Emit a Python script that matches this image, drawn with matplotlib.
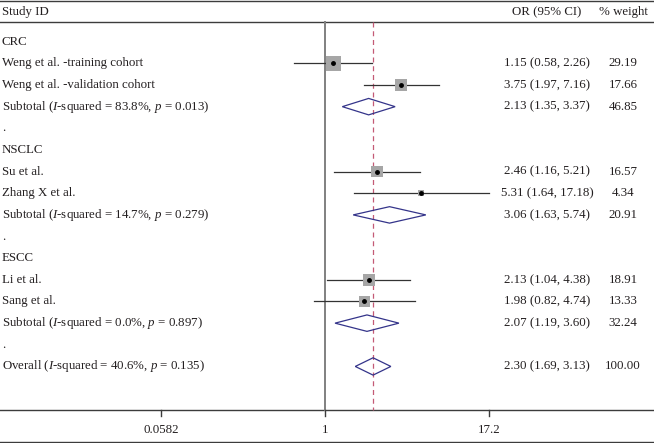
import numpy as np
import matplotlib
matplotlib.use("Agg")
from matplotlib import pyplot as plt
from matplotlib.patches import Polygon, Rectangle
import matplotlib.transforms as mtransforms

plt.rcParams['font.family'] = ['Liberation Serif', 'DejaVu Serif']
plt.rcParams['mathtext.fontset'] = 'custom'
plt.rcParams['mathtext.rm'] = 'Liberation Serif'
plt.rcParams['mathtext.it'] = 'Liberation Serif:italic'

# study level data
groups = ["CRC", "NSCLC", "ESCC"]
studies = [["Weng et al. -training cohort", "Weng et al. -validation cohort"],
           ["Su et al.", "Zhang X et al."],
           ["Li et al.", "Sang et al."]]
or_vals = [[1.15, 3.75], [2.46, 5.31], [2.13, 1.98]]
ci_lo = [[0.58, 1.97], [1.16, 1.64], [1.04, 0.82]]
ci_hi = [[2.26, 7.16], [5.21, 17.18], [4.38, 4.74]]
weights = [[29.19, 17.66], [16.57, 4.34], [18.91, 13.33]]

# subtotals
sub_or = [2.13, 3.06, 2.07]
sub_lo = [1.35, 1.63, 1.19]
sub_hi = [3.37, 5.74, 3.60]
sub_w = [46.85, 20.91, 32.24]
sub_i2 = ["83.8%", "14.7%", "0.0%"]
sub_p = ["0.013", "0.279", "0.897"]

# overall
all_or, all_lo, all_hi, all_w = 2.30, 1.69, 3.13, 100.00
all_i2, all_p = "40.6%", "0.135"

xticks = [0.0582, 1, 17.2]
xtick_labels = ["0.0582", "1", "17.2"]

W, H = 654, 443
fig = plt.figure(figsize=(W / 100, H / 100), dpi=100)
ax = fig.add_axes([0, 0, 1, 1])
ax.set_xscale('log')
# 1 sits at x=325px, 57.7 px per log unit
px_per = 57.7
ax.set_xlim(np.exp(-325 / px_per), np.exp((W - 325) / px_per))
# row i at pixel 41.7 + 21.65*i
y0, dy = 41.7, 21.65
def prow(p):
    return (p - y0) / dy
ax.set_ylim(prow(H), prow(0))
ax.axis('off')

trans = mtransforms.blended_transform_factory(ax.transAxes, ax.transData)
fs = 9.3
col_or = 547 / W
col_w = 623 / W
tcol = "#231f20"

def left_text(y, s):
    ax.text(2 / W, y, s, transform=trans, ha='left', va='center', fontsize=fs, color=tcol)

def right_text(y, s1, s2):
    ax.text(col_or, y, s1, transform=trans, ha='center', va='center', fontsize=fs, color=tcol)
    ax.text(col_w, y, s2, transform=trans, ha='center', va='center', fontsize=fs, color=tcol)

def square(x, y, side_px):
    # side in pixels -> convert to data
    lx = np.log(x)
    half = side_px / 2 / px_per
    hy = side_px / 2 / dy
    ax.add_patch(Rectangle((np.exp(lx - half), y - hy), np.exp(lx + half) - np.exp(lx - half), 2 * hy,
                           facecolor='#a6a6a6', edgecolor='none', zorder=3))
    ax.plot([x], [y], marker='o', ms=2.5, color='black', zorder=4)

def diamond(est, lo, hi, y, h=0.38):
    pts = [(lo, y), (est, y - h), (hi, y), (est, y + h)]
    ax.add_patch(Polygon(pts, closed=True, fill=False, edgecolor='#34348a', lw=0.9, zorder=3))

# header
hy = prow(12.5)
left_text(hy, "Study ID")
right_text(hy, "OR (95% CI)", "% weight")

row = 0
for g in range(3):
    left_text(row, groups[g])
    row += 1
    for k in range(2):
        y = row
        left_text(y, studies[g][k])
        ax.plot([ci_lo[g][k], ci_hi[g][k]], [y, y], color='#333333', lw=0.9, zorder=2)
        square(or_vals[g][k], y, 2.8 * np.sqrt(weights[g][k]))
        right_text(y, "%.2f (%.2f, %.2f)" % (or_vals[g][k], ci_lo[g][k], ci_hi[g][k]),
                   "%.2f" % weights[g][k])
        row += 1
    left_text(row, "Subtotal ($I$-squared = %s, $p$ = %s)" % (sub_i2[g], sub_p[g]))
    diamond(sub_or[g], sub_lo[g], sub_hi[g], row)
    right_text(row, "%.2f (%.2f, %.2f)" % (sub_or[g], sub_lo[g], sub_hi[g]), "%.2f" % sub_w[g])
    row += 1
    left_text(row, ".")
    row += 1

left_text(row, "Overall ($I$-squared = %s, $p$ = %s)" % (all_i2, all_p))
diamond(all_or, all_lo, all_hi, row, h=0.4)
right_text(row, "%.2f (%.2f, %.2f)" % (all_or, all_lo, all_hi), "%.2f" % all_w)

# frame lines
xl = ax.get_xlim()
line_kw = dict(color='#3c3c3c', lw=1.0, zorder=1)
y_top = prow(0.6)
y_head = prow(22)
y_axis = prow(410)
y_bot = prow(442)
for yy in [y_top, y_head, y_axis, y_bot]:
    ax.plot(xl, [yy, yy], **line_kw)

# no-effect line and overall dashed line
ax.plot([1, 1], [y_head, y_axis], color='#808080', lw=1.4, zorder=1)
ax.plot([all_or, all_or], [y_head, y_axis], color='#c45a76', lw=0.9, ls=(0, (4, 3)), zorder=1)

# ticks
tick_len = 6 / dy
for t, lab in zip(xticks, xtick_labels):
    ax.plot([t, t], [y_axis, y_axis + tick_len], **line_kw)
    ax.text(t, prow(430), lab, ha='center', va='center', fontsize=fs, color=tcol)

fig.savefig("out.png", dpi=100)
